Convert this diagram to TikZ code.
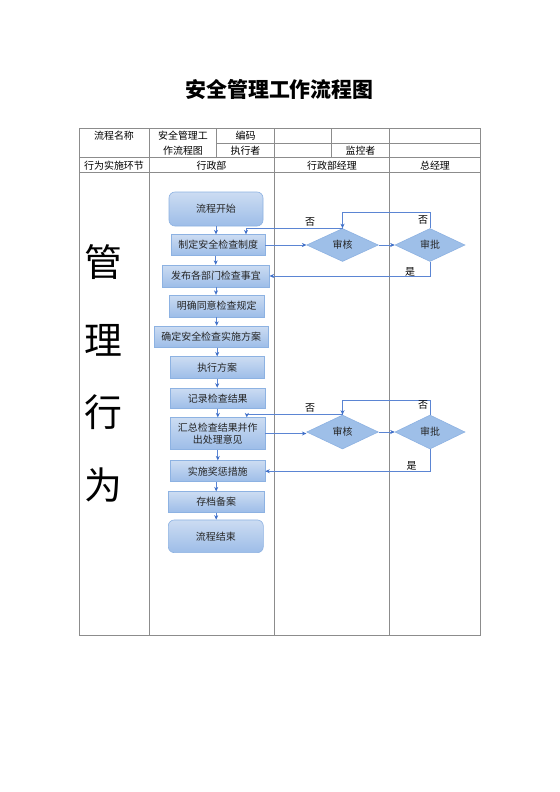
\documentclass[tikz,border=0pt]{standalone}
\usepackage{fontspec}
\setmainfont{Noto Sans CJK SC}
\usetikzlibrary{arrows.meta,shapes.geometric,calc}
\definecolor{gridc}{HTML}{8C8C8C}
\definecolor{boxtop}{HTML}{CCDCF2}
\definecolor{boxbot}{HTML}{9DBDE8}
\definecolor{boxdraw}{HTML}{8DB2E2}
\definecolor{dmdfill}{HTML}{9EBFE8}
\definecolor{linec}{HTML}{5B85D3}
\definecolor{tipc}{HTML}{3F6FC8}
\begin{document}
\begin{tikzpicture}[x=1bp,y=-1bp,
  grid/.style={draw=gridc,line width=0.8bp},
  celltext/.style={font=\fontsize{10}{12}\selectfont,inner sep=0pt,text=black},
  stepbox/.style={draw=boxdraw,line width=0.6bp,top color=boxtop,bottom color=boxbot,
    inner sep=0pt,font=\fontsize{10}{12.5}\selectfont,align=center,text=black!85},
  termbox/.style={stepbox,rounded corners=6bp},
  dmd/.style={diamond,draw=boxdraw,line width=0.6bp,fill=dmdfill,inner sep=0pt,aspect=2,
    font=\fontsize{10}{12}\selectfont,text=black!85},
  flow/.style={draw=linec,line width=0.7bp,-{Stealth[length=4.5bp,width=4bp,color=tipc]}},
  lbl/.style={font=\fontsize{10}{12}\selectfont,inner sep=0pt,text=black},
  big/.style={font=\fontsize{38}{40}\selectfont,inner sep=0pt,text=black}]
\useasboundingbox[fill=white] (0,0) rectangle (560,792);

% title
\node[font=\bfseries\fontsize{21}{24}\selectfont,inner sep=0pt] (title) at (279.5,90) {安全管理工作流程图};

% table lines
\draw[grid] (79,128.3) rectangle (480.7,635);
\draw[grid] (216.7,143.3) -- (480.7,143.3);
\draw[grid] (79,157.7) -- (480.7,157.7);
\draw[grid] (79,172.3) -- (480.7,172.3);
\draw[grid] (149,128.3) -- (149,635);
\draw[grid] (216.7,128.3) -- (216.7,157.7);
\draw[grid] (274.3,128.3) -- (274.3,635);
\draw[grid] (331.7,128.3) -- (331.7,157.7);
\draw[grid] (389.3,128.3) -- (389.3,635);

% table texts
\node[celltext] (t1) at (114,136) {流程名称};
\node[celltext] (t2) at (183,136) {安全管理工};
\node[celltext] (t3) at (183,151) {作流程图};
\node[celltext] (t4) at (245.5,136) {编码};
\node[celltext] (t5) at (245.5,151) {执行者};
\node[celltext] (t6) at (360.5,151) {监控者};
\node[celltext] (t7) at (114,165.5) {行为实施环节};
\node[celltext] (t8) at (211.5,165.5) {行政部};
\node[celltext] (t9) at (332,165.5) {行政部经理};
\node[celltext] (t10) at (435,165.5) {总经理};

% big vertical label
\node[big] (g1) at (103.5,262.5) {管};
\node[big] (g2) at (103.5,340) {理};
\node[big] (g3) at (103.5,412.5) {行};
\node[big] (g4) at (103.5,485) {为};

% process boxes
\node[termbox,minimum width=94bp,minimum height=34bp] (start) at (216,209) {流程开始};
\node[stepbox,minimum width=93.3bp,minimum height=20.7bp] (n1) at (218.3,245) {制定安全检查制度};
\node[stepbox,minimum width=106.6bp,minimum height=21.7bp] (n2) at (216,276) {发布各部门检查事宜};
\node[stepbox,minimum width=95.3bp,minimum height=21.7bp] (n3) at (216.7,306) {明确同意检查规定};
\node[stepbox,minimum width=114.3bp,minimum height=21.3bp] (n4) at (211.2,336.7) {确定安全检查实施方案};
\node[stepbox,minimum width=94.3bp,minimum height=21.6bp] (n5) at (217.2,367.5) {执行方案};
\node[stepbox,minimum width=94.3bp,minimum height=20.4bp] (n6) at (217.8,398.2) {记录检查结果};
\node[stepbox,minimum width=94.3bp,minimum height=31.7bp] (n7) at (217.8,433.5) {汇总检查结果并作\\出处理意见};
\node[stepbox,minimum width=94.3bp,minimum height=21bp] (n8) at (217.8,471.2) {实施奖惩措施};
\node[stepbox,minimum width=95.7bp,minimum height=20.6bp] (n9) at (216.2,502) {存档备案};
\node[termbox,minimum width=95bp,minimum height=32.7bp] (end) at (215.8,536.3) {流程结束};

% decisions
\node[dmd,minimum width=71.6bp,minimum height=33bp] (d1) at (342.5,245) {审核};
\node[dmd,minimum width=70bp,minimum height=33bp] (d2) at (430,245) {审批};
\node[dmd,minimum width=71.6bp,minimum height=34bp] (d3) at (342.5,432) {审核};
\node[dmd,minimum width=70bp,minimum height=34bp] (d4) at (430,432) {审批};

% main vertical flow
\draw[flow] (start.south) -- (start.south |- n1.north);
\draw[flow] ([xshift=-2.6bp]n1.south) -- ([xshift=-2.6bp]n1.south |- n2.north);
\draw[flow] (n2.south) -- (n2.south |- n3.north);
\draw[flow] (n3.south) -- (n3.south |- n4.north);
\draw[flow] (n5.north |- n4.south) -- (n5.north);
\draw[flow] (n5.south) -- (n5.south |- n6.north);
\draw[flow] (n6.south) -- (n6.south |- n7.north);
\draw[flow] (n7.south) -- (n7.south |- n8.north);
\draw[flow] (n9.north |- n8.south) -- (n9.north);
\draw[flow] (n9.south) -- (n9.south |- end.north);

% first review loop
\draw[flow] (n1.east) -- (d1.west);
\draw[flow] (d1.east) -- (d2.west);
\draw[flow] (d1.north) -| ([xshift=27.7bp]n1.north);
\draw[flow] (d2.north) -- ++(0,-15.5) -| (d1.north);
\draw[flow] (d2.south) |- (n2.east);
\node[lbl] (no1) at (310,222) {否};
\node[lbl] (no2) at (423,220) {否};
\node[lbl] (yes1) at (410,271.5) {是};

% second review loop
\draw[flow] (n7.east) -- (n7.east -| d3.west);
\draw[flow] (d3.east) -- (d4.west);
\draw[flow] (d3.north) -| ([xshift=29bp]n7.north);
\draw[flow] (d4.north) -- ++(0,-14.5) -| (d3.north);
\draw[flow] (d4.south) |- (n8.east);
\node[lbl] (no3) at (310,408) {否};
\node[lbl] (no4) at (423,405) {否};
\node[lbl] (yes2) at (411.5,466) {是};
\end{tikzpicture}
\end{document}
